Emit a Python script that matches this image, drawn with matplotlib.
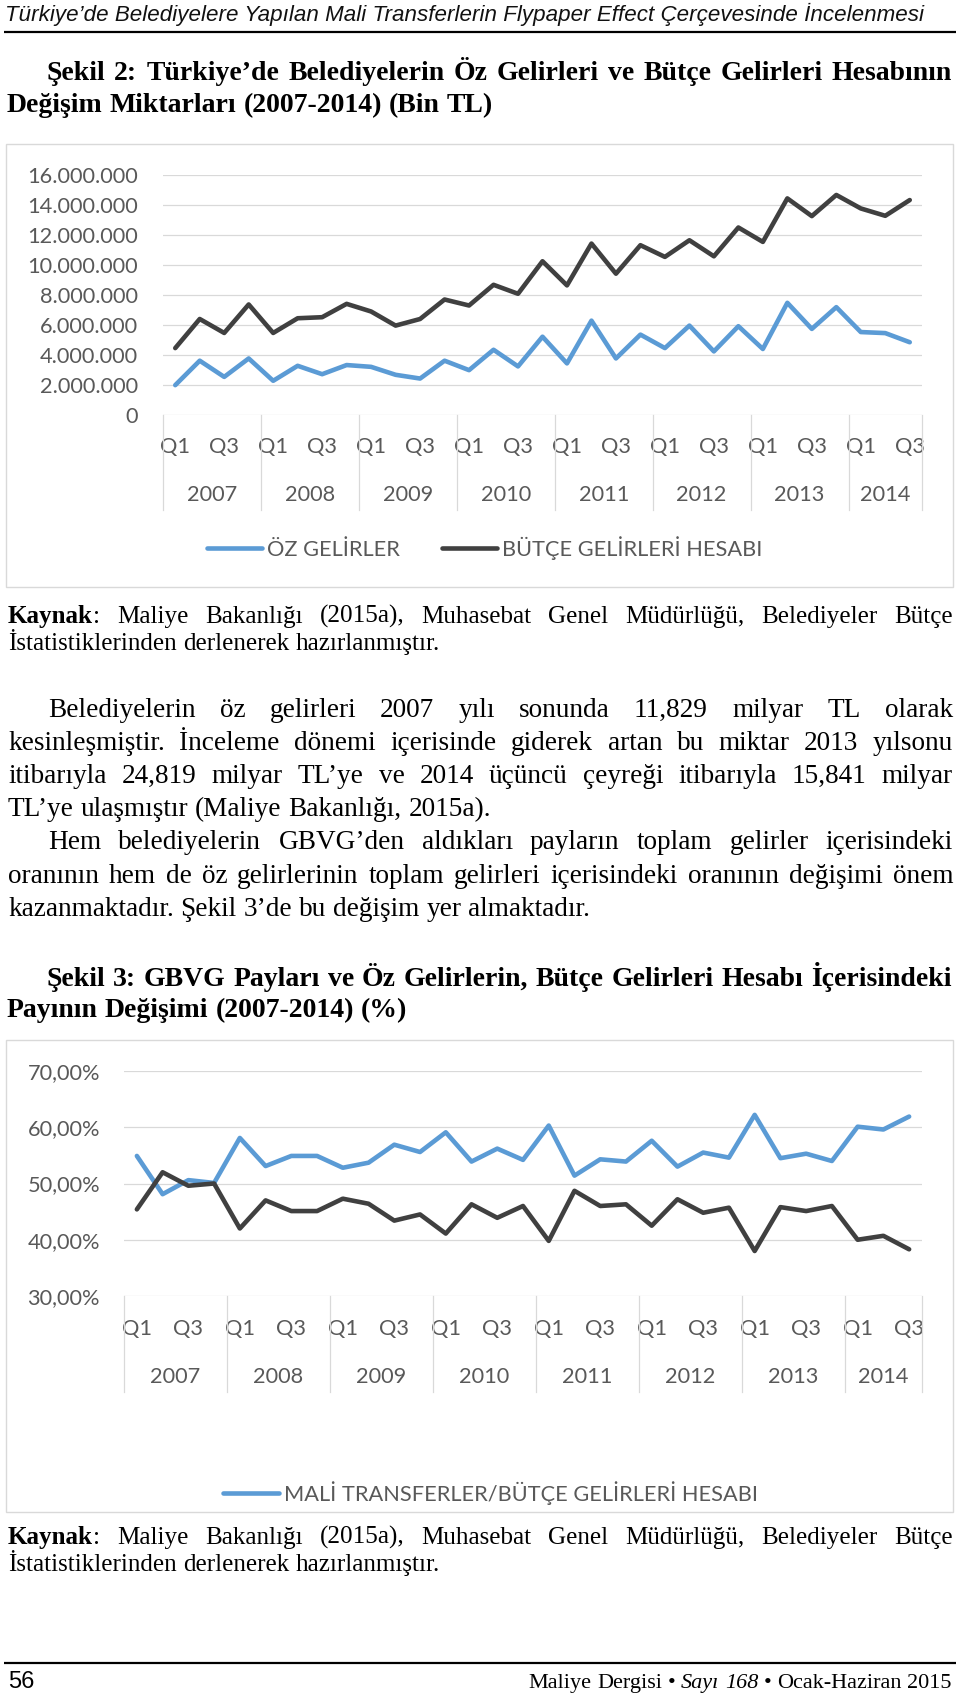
import matplotlib
matplotlib.use("Agg")
import matplotlib.pyplot as plt
from matplotlib.patches import Rectangle
from matplotlib.ticker import FixedLocator

# ---------------- data ----------------
years = ["2007", "2008", "2009", "2010", "2011", "2012", "2013", "2014"]
quarters = ["Q1", "Q2", "Q3", "Q4"]

# Şekil 2 (Bin TL)
oz_gelirler = [1990000, 3620000, 2540000, 3770000, 2280000, 3280000, 2720000, 3330000,
               3210000, 2680000, 2430000, 3620000, 2990000, 4350000, 3240000, 5220000,
               3440000, 6290000, 3770000, 5360000, 4460000, 5960000, 4240000, 5920000,
               4400000, 7480000, 5740000, 7190000, 5530000, 5460000, 4850000]
butce_gelirleri = [4460000, 6400000, 5470000, 7370000, 5470000, 6450000, 6520000, 7410000,
                   6900000, 5960000, 6400000, 7700000, 7300000, 8680000, 8080000, 10250000,
                   8640000, 11430000, 9420000, 11320000, 10540000, 11650000, 10580000, 12500000,
                   11540000, 14440000, 13260000, 14670000, 13770000, 13280000, 14330000]
y1_ticks = [0, 2000000, 4000000, 6000000, 8000000, 10000000, 12000000, 14000000, 16000000]
y1_labels = ["0", "2.000.000", "4.000.000", "6.000.000", "8.000.000", "10.000.000",
             "12.000.000", "14.000.000", "16.000.000"]
legend1 = ["ÖZ GELİRLER", "BÜTÇE GELİRLERİ HESABI"]

# Şekil 3 (%)
transfer_payi = [54.9, 48.1, 50.6, 50.1, 58.1, 53.1, 54.9, 54.9, 52.8, 53.7, 56.9, 55.6,
                 59.1, 53.9, 56.2, 54.2, 60.3, 51.4, 54.3, 53.9, 57.6, 53.0, 55.5, 54.6,
                 62.2, 54.5, 55.3, 54.0, 60.1, 59.6, 61.9]
oz_gelir_payi = [45.4, 52.0, 49.6, 50.0, 42.0, 47.0, 45.1, 45.1, 47.3, 46.4, 43.4, 44.5,
                 41.1, 46.3, 43.9, 46.0, 39.8, 48.7, 46.0, 46.3, 42.5, 47.2, 44.8, 45.7,
                 38.0, 45.8, 45.1, 46.0, 40.0, 40.7, 38.3]
y2_ticks = [30, 40, 50, 60, 70]
y2_labels = ["30,00%", "40,00%", "50,00%", "60,00%", "70,00%"]
legend2 = ["MALİ TRANSFERLER/BÜTÇE GELİRLERİ HESABI"]

N = len(oz_gelirler)
cat_labels = [q for _ in years for q in quarters][:N]

# ---------------- page setup ----------------
W, H, DPI = 960, 1696, 100
fig = plt.figure(figsize=(W / DPI, H / DPI), dpi=DPI)
fig.patch.set_facecolor("white")
bg = fig.add_axes([0, 0, 1, 1], zorder=0)
bg.set_xlim(0, W)
bg.set_ylim(H, 0)
bg.axis("off")
renderer = fig.canvas.get_renderer()

SERIF = ["Liberation Serif", "DejaVu Serif"]
SANS = ["Liberation Sans", "DejaVu Sans"]
CHARTF = ["Lato", "DejaVu Sans"]
BLUE = "#5B9BD5"
DARK = "#404040"
GRID = "#D9D9D9"
TXT = "#595959"


def text_width(s, **kw):
    t = bg.text(0, 0, s, **kw)
    w = t.get_window_extent(renderer).width
    t.remove()
    return w


def fit(s, target, ref=20.0, **kw):
    return ref * target / text_width(s, fontsize=ref, **kw)


def space_w(size, **kw):
    return text_width("a a", fontsize=size, **kw) - text_width("aa", fontsize=size, **kw)


def put_line(words, x0, y, size, x1=None, base=None, color="black"):
    base = dict(base or {})
    items = []
    for w in words:
        segs = w if isinstance(w, list) else [(w, {})]
        ts = []
        for s, st in segs:
            kw = dict(base)
            kw.update(st)
            t = bg.text(0, y, s, fontsize=size, va="baseline", ha="left", color=color, **kw)
            ts.append((t, t.get_window_extent(renderer).width))
        items.append(ts)
    widths = [sum(w for _, w in ts) for ts in items]
    if x1 is not None and len(items) > 1:
        g = (x1 - x0 - sum(widths)) / (len(items) - 1)
    else:
        g = space_w(size, **base)
    x = x0
    for ts in items:
        for t, w in ts:
            t.set_x(x)
            x += w
        x += g


def ax_rect(x0, y0, x1, y1):
    return [x0 / W, 1 - y1 / H, (x1 - x0) / W, (y1 - y0) / H]


# ---------------- header ----------------
hdr = "Türkiye’de Belediyelere Yapılan Mali Transferlerin Flypaper Effect Çerçevesinde İncelenmesi"
hs = fit(hdr, 915, family=SANS, style="italic")
bg.text(5, 21, hdr, fontsize=hs, family=SANS, style="italic", va="baseline", ha="left", color="#111111")
bg.plot([4, 956], [32, 32], color="black", lw=1.6, solid_capstyle="butt")

# ---------------- titles / body text sizes ----------------
BOLD = dict(family=SERIF, weight="bold")
REG = dict(family=SERIF)
ts1 = fit("Değişim Miktarları (2007-2014) (Bin TL)", 483, **BOLD)
ts2 = fit("Payının Değişimi (2007-2014) (%)", 400, **BOLD)
tsz = (ts1 + ts2) / 2
bsz = fit("TL’ye ulaşmıştır (Maliye Bakanlığı, 2015a).", 483, **REG)
ksz = fit("İstatistiklerinden derlenerek hazırlanmıştır.", 432, **REG)

put_line("Şekil 2: Türkiye’de Belediyelerin Öz Gelirleri ve Bütçe Gelirleri Hesabının".split(),
         46, 80, tsz, x1=952, base=BOLD)
put_line("Değişim Miktarları (2007-2014) (Bin TL)".split(), 7, 112, tsz, base=BOLD)

# ---------------- chart 1 ----------------
bg.add_patch(Rectangle((6, 144), 947, 443, fill=False, edgecolor=GRID, lw=1.0))
ax1 = fig.add_axes(ax_rect(163, 175, 922, 415), zorder=1)
csz = fit("16.000.000", 111, family=CHARTF)
x = list(range(N))
ax1.plot(x, oz_gelirler, color=BLUE, lw=3.3, solid_capstyle="round", solid_joinstyle="round",
         label=legend1[0])
ax1.plot(x, butce_gelirleri, color=DARK, lw=3.3, solid_capstyle="round", solid_joinstyle="round",
         label=legend1[1])
ax1.set_ylim(0, 16000000)
ax1.set_xlim(-0.5, N - 0.5)


def style_cat_axis(ax, yticks, ylabels, ypad_px, q_dy, yr_dy, sep_dy, ax_h):
    for s in ax.spines.values():
        s.set_visible(False)
    ax.set_facecolor("none")
    ax.set_yticks(yticks)
    ax.set_yticklabels(ylabels, family=CHARTF, fontsize=csz, color=TXT)
    ax.tick_params(axis="y", length=0, pad=ypad_px * 72 / DPI)
    ax.yaxis.grid(True, color=GRID, lw=0.9)
    ax.set_axisbelow(True)
    qt = [i for i in range(N) if i % 2 == 0]
    ax.xaxis.set_major_locator(FixedLocator(qt))
    ax.set_xticklabels([cat_labels[i] for i in qt], family=CHARTF, fontsize=csz, color=TXT)
    ax.tick_params(axis="x", length=0, pad=q_dy * 72 / DPI)
    for lbl in ax.get_xticklabels():
        lbl.set_va("center")
    tr = ax.get_xaxis_transform()
    bounds = [-0.5 + 4 * k for k in range(len(years))] + [N - 0.5]
    for b in bounds:
        ax.plot([b, b], [0, -sep_dy / ax_h], transform=tr, clip_on=False, color=GRID, lw=0.9)
    for k, yr in enumerate(years):
        c = (bounds[k] + bounds[k + 1]) / 2
        ax.text(c, -yr_dy / ax_h, yr, transform=tr, ha="center", va="center",
                family=CHARTF, fontsize=csz, color=TXT)


style_cat_axis(ax1, y1_ticks, y1_labels, 25, 32, 80, 95, 240)
em1 = csz * DPI / 72
leg1 = ax1.legend(loc="center", bbox_to_anchor=(485, 548), bbox_transform=bg.transData,
                  ncol=2, frameon=False, prop=dict(family=CHARTF, size=csz),
                  handlelength=55 / em1, handletextpad=5 / em1, columnspacing=42 / em1,
                  borderpad=0, borderaxespad=0)
for t in leg1.get_texts():
    t.set_color(TXT)

# ---------------- Kaynak 1 ----------------
kaynak_words = [[("Kaynak", dict(weight="bold")), (":", {})], "Maliye", "Bakanlığı", "(2015a),",
                "Muhasebat", "Genel", "Müdürlüğü,", "Belediyeler", "Bütçe"]
put_line(kaynak_words, 8, 623, ksz, x1=953, base=REG)
put_line("İstatistiklerinden derlenerek hazırlanmıştır.".split(), 8, 650, ksz, base=REG)

# ---------------- body paragraph ----------------
body = [
    ("Belediyelerin öz gelirleri 2007 yılı sonunda 11,829 milyar TL olarak", 48, True),
    ("kesinleşmiştir. İnceleme dönemi içerisinde giderek artan bu miktar 2013 yılsonu", 8, True),
    ("itibarıyla 24,819 milyar TL’ye ve 2014 üçüncü çeyreği itibarıyla 15,841 milyar", 8, True),
    ("TL’ye ulaşmıştır (Maliye Bakanlığı, 2015a).", 8, False),
    ("Hem belediyelerin GBVG’den aldıkları payların toplam gelirler içerisindeki", 48, True),
    ("oranının hem de öz gelirlerinin toplam gelirleri içerisindeki oranının değişimi önem", 8, True),
    ("kazanmaktadır. Şekil 3’de bu değişim yer almaktadır.", 8, False),
]
base_y = [717, 750, 783, 816, 849, 883, 916]
for (s, xs, just), yy in zip(body, base_y):
    put_line(s.split(), xs, yy, bsz, x1=953 if just else None, base=REG)

# ---------------- Şekil 3 title ----------------
put_line("Şekil 3: GBVG Payları ve Öz Gelirlerin, Bütçe Gelirleri Hesabı İçerisindeki".split(),
         46, 986, tsz, x1=952, base=BOLD)
put_line("Payının Değişimi (2007-2014) (%)".split(), 7, 1017, tsz, base=BOLD)

# ---------------- chart 2 ----------------
bg.add_patch(Rectangle((6, 1040), 947, 472, fill=False, edgecolor=GRID, lw=1.0))
ax2 = fig.add_axes(ax_rect(124, 1071, 922, 1296), zorder=1)
ax2.plot(x, transfer_payi, color=BLUE, lw=3.3, solid_capstyle="round", solid_joinstyle="round",
         label=legend2[0])
ax2.plot(x, oz_gelir_payi, color=DARK, lw=3.3, solid_capstyle="round", solid_joinstyle="round")
ax2.set_ylim(30, 70)
ax2.set_xlim(-0.5, N - 0.5)
style_cat_axis(ax2, y2_ticks, y2_labels, 24, 33, 81, 96, 225)
h2, l2 = ax2.get_legend_handles_labels()
leg2 = ax2.legend(h2[:1], l2[:1], loc="center", bbox_to_anchor=(490, 1493),
                  bbox_transform=bg.transData, frameon=False, prop=dict(family=CHARTF, size=csz),
                  handlelength=56 / em1, handletextpad=5 / em1, borderpad=0, borderaxespad=0)
for t in leg2.get_texts():
    t.set_color(TXT)

# ---------------- Kaynak 2 ----------------
put_line(kaynak_words, 8, 1544, ksz, x1=953, base=REG)
put_line("İstatistiklerinden derlenerek hazırlanmıştır.".split(), 8, 1571, ksz, base=REG)

# ---------------- footer ----------------
bg.plot([4, 956], [1663, 1663], color="black", lw=1.6, solid_capstyle="butt")
bg.text(8, 1688, "56", fontsize=17, family=SANS, va="baseline", ha="left", color="black")
foot = [["Maliye"], ["Dergisi"], [("•", {})], [("Sayı", dict(style="italic"))],
        [("168", dict(style="italic"))], [("•", {})], ["Ocak-Haziran"], ["2015"]]
foot = [[(w[0], {})] if isinstance(w[0], str) else w for w in foot]
fsz = fit("Maliye Dergisi • Sayı 168 • Ocak-Haziran 2015", 425, **REG)
fw = text_width("Maliye Dergisi • Sayı 168 • Ocak-Haziran 2015", fontsize=fsz, **REG)
put_line(foot, 953 - fw, 1688, fsz, base=REG)

fig.savefig("out.png", dpi=DPI, facecolor="white")
